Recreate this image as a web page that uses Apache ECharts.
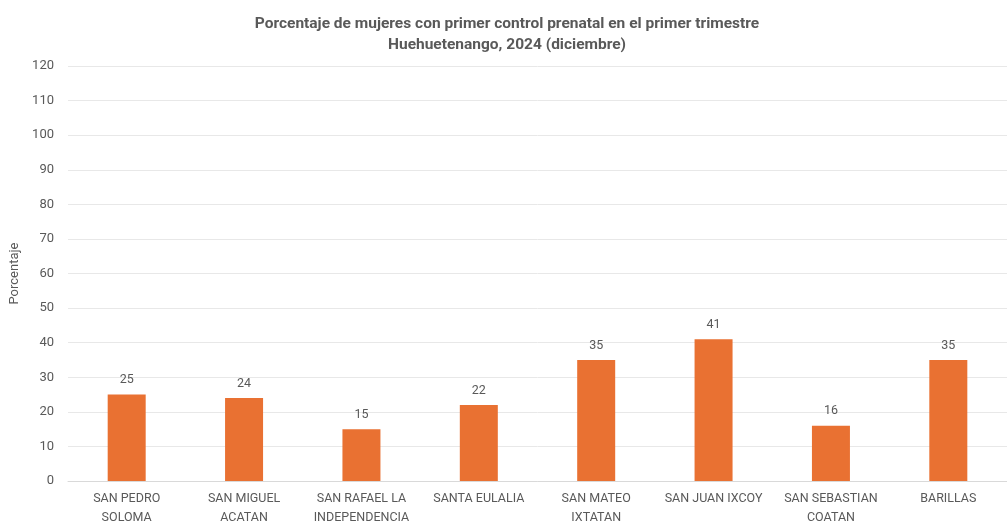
<!DOCTYPE html>
<html>
<head>
<meta charset="utf-8">
<script src="https://cdn.jsdelivr.net/npm/echarts@6/dist/echarts.min.js"></script>
<style>
html,body{margin:0;padding:0;background:#fff;}
#chart{width:1007px;height:527px;}
</style>
</head>
<body>
<div id="chart"></div>
<script>
const titleLines = ['Porcentaje de mujeres con primer control prenatal en el primer trimestre', 'Huehuetenango, 2024 (diciembre)'];
const categories = ['SAN PEDRO\nSOLOMA', 'SAN MIGUEL\nACATAN', 'SAN RAFAEL LA\nINDEPENDENCIA', 'SANTA EULALIA', 'SAN MATEO\nIXTATAN', 'SAN JUAN IXCOY', 'SAN SEBASTIAN\nCOATAN', 'BARILLAS'];
const values = [25, 24, 15, 22, 35, 41, 16, 35];
const yAxisName = 'Porcentaje';

const chart = echarts.init(document.getElementById('chart'), null, {renderer: 'canvas'});
chart.setOption({
  animation: false,
  backgroundColor: '#ffffff',
  title: {
    text: titleLines.join('\n'),
    left: 502,
    textAlign: 'center',
    top: 9,
    textStyle: {
      fontFamily: 'Roboto',
      fontWeight: 'bold',
      fontSize: 15.5,
      color: '#595959',
      lineHeight: 21
    }
  },
  grid: {left: 67, right: 0, top: 66, bottom: 42},
  xAxis: {
    type: 'category',
    data: categories,
    axisLine: {show: true, lineStyle: {color: '#d9d9d9', width: 1}},
    axisTick: {show: false},
    axisLabel: {
      interval: 0,
      color: '#595959',
      fontFamily: 'Roboto',
      fontSize: 12.5,
      lineHeight: 19,
      margin: 8
    }
  },
  yAxis: {
    type: 'value',
    min: 0,
    max: 120,
    interval: 10,
    name: yAxisName,
    nameLocation: 'middle',
    nameGap: 47,
    nameTextStyle: {color: '#595959', fontFamily: 'Roboto', fontSize: 13},
    axisLine: {show: false},
    axisTick: {show: false},
    axisLabel: {color: '#595959', fontFamily: 'Roboto', fontSize: 13, margin: 14},
    splitLine: {lineStyle: {color: '#e8e8e8', width: 1}}
  },
  series: [{
    type: 'bar',
    data: values,
    barWidth: 38,
    itemStyle: {color: '#E97132'},
    label: {
      show: true,
      position: 'top',
      distance: 8,
      color: '#595959',
      fontFamily: 'Roboto',
      fontSize: 12.5
    }
  }]
});
</script>
</body>
</html>
